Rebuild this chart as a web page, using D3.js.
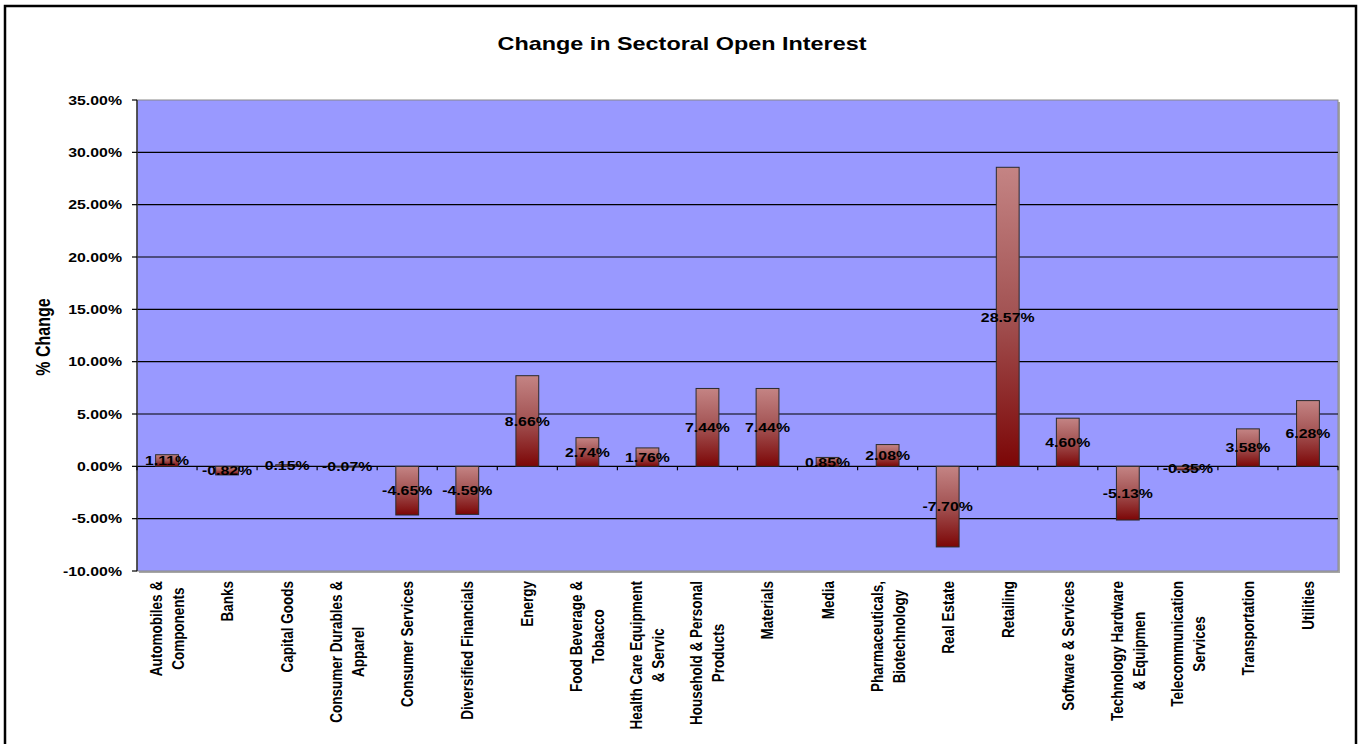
<!DOCTYPE html>
<html>
<head>
<meta charset="utf-8">
<script src="https://cdn.jsdelivr.net/npm/d3@7"></script>
<style>
body { margin: 0; background: #fff; }
text { font-family: Arial, "Liberation Sans", sans-serif; fill: #000; }
</style>
</head>
<body>
<svg id="chart" width="1359" height="744"></svg>
<script>
// sector names, already split into the lines Excel wrapped them into
var sectors = [
    ['Automobiles &', 'Components'],
    ['Banks'],
    ['Capital Goods'],
    ['Consumer Durables &', 'Apparel'],
    ['Consumer Services'],
    ['Diversified Financials'],
    ['Energy'],
    ['Food Beverage &', 'Tobacco'],
    ['Health Care Equipment', '& Servic'],
    ['Household & Personal', 'Products'],
    ['Materials'],
    ['Media'],
    ['Pharmaceuticals,', 'Biotechnology'],
    ['Real Estate'],
    ['Retailing'],
    ['Software & Services'],
    ['Technology Hardware', '& Equipmen'],
    ['Telecommunication', 'Services'],
    ['Transportation'],
    ['Utilities']
];
// % change in open interest
var changes = [1.11, -0.82, 0.15, -0.07, -4.65, -4.59, 8.66, 2.74, 1.76, 7.44,
               7.44, 0.85, 2.08, -7.70, 28.57, 4.60, -5.13, -0.35, 3.58, 6.28];
var yTicks = [-10, -5, 0, 5, 10, 15, 20, 25, 30, 35];

var svg = d3.select('#chart');
var sx = 1.22; // the original picture is stretched sideways, text included
var pct = function (d) { return d.toFixed(2) + '%'; };

var plot = { l: 137, r: 1338, t: 100, b: 571 };

var xScale = d3.scaleBand()
    .domain(d3.range(changes.length))
    .range([plot.l, plot.r])
    .paddingInner(0.62)
    .paddingOuter(0.31);
var yScale = d3.scaleLinear().domain([-10, 35]).range([plot.b, plot.t]);
var step = xScale.step();
var bandStart = function (i) { return plot.l + i * step; };

// outer frame
svg.append('rect')
    .attr('x', 5).attr('y', 6).attr('width', 1351).attr('height', 760)
    .attr('fill', 'none').attr('stroke', '#000').attr('stroke-width', 2.5);

// gradient for the bars
var grad = svg.append('defs').append('linearGradient')
    .attr('id', 'barGrad').attr('x1', 0).attr('y1', 0).attr('x2', 0).attr('y2', 1);
grad.append('stop').attr('offset', '0%').attr('stop-color', '#c48484');
grad.append('stop').attr('offset', '50%').attr('stop-color', '#a25252');
grad.append('stop').attr('offset', '100%').attr('stop-color', '#7c0606');

// plot area with shadow
svg.append('rect')
    .attr('x', plot.l + 2).attr('y', plot.t + 2)
    .attr('width', plot.r - plot.l).attr('height', plot.b - plot.t)
    .attr('fill', '#a6a6a6');
svg.append('rect')
    .attr('x', plot.l).attr('y', plot.t)
    .attr('width', plot.r - plot.l).attr('height', plot.b - plot.t)
    .attr('fill', '#9999ff').attr('stroke', '#8a8a8a').attr('stroke-width', 1);

// gridlines
svg.append('g').selectAll('line')
    .data(yTicks.filter(function (d) { return d > -10 && d < 35; }))
    .enter().append('line')
    .attr('x1', plot.l).attr('x2', plot.r)
    .attr('y1', function (d) { return yScale(d); })
    .attr('y2', function (d) { return yScale(d); })
    .attr('stroke', '#000').attr('stroke-width', 1.2);

// y axis
var yAxis = svg.append('g');
yAxis.append('line')
    .attr('x1', plot.l).attr('x2', plot.l).attr('y1', plot.t).attr('y2', plot.b)
    .attr('stroke', '#333').attr('stroke-width', 1.5);
yAxis.selectAll('.ytick').data(yTicks).enter().append('line')
    .attr('x1', plot.l - 5).attr('x2', plot.l)
    .attr('y1', function (d) { return yScale(d); })
    .attr('y2', function (d) { return yScale(d); })
    .attr('stroke', '#000').attr('stroke-width', 1.2);
yAxis.selectAll('text').data(yTicks).enter().append('text')
    .attr('transform', function (d) { return 'translate(122,' + yScale(d) + ') scale(' + sx + ',1)'; })
    .attr('dy', '0.36em')
    .attr('text-anchor', 'end')
    .attr('font-size', '13px').attr('font-weight', 'bold')
    .text(pct);

// category ticks on the zero line
svg.append('g').selectAll('line')
    .data(d3.range(changes.length + 1))
    .enter().append('line')
    .attr('x1', function (i) { return bandStart(i); })
    .attr('x2', function (i) { return bandStart(i); })
    .attr('y1', yScale(0)).attr('y2', yScale(0) + 4)
    .attr('stroke', '#000').attr('stroke-width', 1.2);

// bars
svg.append('g').selectAll('rect')
    .data(changes)
    .enter().append('rect')
    .attr('x', function (d, i) { return xScale(i); })
    .attr('width', xScale.bandwidth())
    .attr('y', function (d) { return yScale(Math.max(0, d)); })
    .attr('height', function (d) { return Math.abs(yScale(d) - yScale(0)); })
    .attr('fill', 'url(#barGrad)')
    .attr('stroke', '#2b2b2b').attr('stroke-width', 1);

// value labels in the middle of each bar
svg.append('g').selectAll('text')
    .data(changes)
    .enter().append('text')
    .attr('transform', function (d, i) {
        return 'translate(' + (xScale(i) + xScale.bandwidth() / 2) + ',' + yScale(d / 2) + ') scale(' + sx + ',1)';
    })
    .attr('dy', '0.36em')
    .attr('text-anchor', 'middle')
    .attr('font-size', '13px').attr('font-weight', 'bold')
    .text(pct);

// category labels, rotated, lines centred on each other
var labelTop = 581;
var lineGap = 22;
var catG = svg.append('g');
sectors.forEach(function (lines, i) {
    var cx = xScale(i) + xScale.bandwidth() / 2;
    var texts = lines.map(function (ln, j) {
        var off = (j - (lines.length - 1) / 2) * lineGap;
        return catG.append('text')
            .attr('font-size', '13.5px').attr('font-weight', 'bold')
            .attr('text-anchor', 'middle')
            .attr('dy', '0.36em')
            .attr('data-x', cx + off)
            .text(ln);
    });
    var maxLen = d3.max(texts, function (t) { return t.node().getComputedTextLength(); });
    texts.forEach(function (t) {
        t.attr('transform', 'translate(' + t.attr('data-x') + ',' + (labelTop + maxLen / 2) + ') rotate(-90) scale(1,' + sx + ')');
    });
});

// titles
svg.append('text')
    .attr('transform', 'translate(682,44) scale(1.3,1)')
    .attr('dy', '0.36em')
    .attr('text-anchor', 'middle')
    .attr('font-size', '18px').attr('font-weight', 'bold')
    .text('Change in Sectoral Open Interest');

svg.append('text')
    .attr('transform', 'translate(43,337) rotate(-90) scale(1,' + sx + ')')
    .attr('dy', '0.36em')
    .attr('text-anchor', 'middle')
    .attr('font-size', '16px').attr('font-weight', 'bold')
    .text('% Change');
</script>
</body>
</html>
